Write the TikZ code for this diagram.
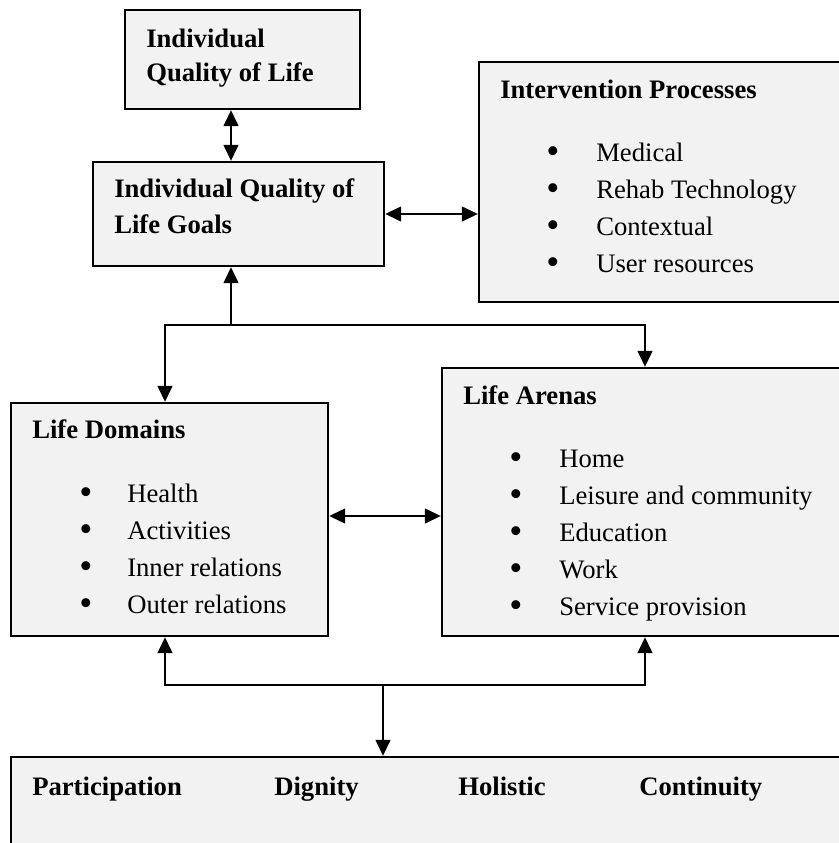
\documentclass[tikz,border=0pt]{standalone}
\usepackage{fontspec}
\setmainfont{Liberation Serif}
\usetikzlibrary{arrows.meta,fit}

\tikzset{
  panel/.style={draw, line width=1.7pt, fill=black!5, inner sep=0pt},
  txt/.style={anchor=base west, inner sep=0pt, font=\fontsize{20pt}{28pt}\selectfont},
  head/.style={txt, font=\fontsize{20pt}{28pt}\selectfont\bfseries},
  dot/.style={anchor=base, inner sep=0pt, font=\fontsize{28pt}{28pt}\selectfont},
  wire/.style={line width=1.7pt, -{Triangle[width=11pt,length=12pt]}},
  twoway/.style={line width=1.7pt, {Triangle[width=11pt,length=12pt]}-{Triangle[width=11pt,length=12pt]}}
}

\begin{document}
\begin{tikzpicture}[x=0.75pt, y=-0.75pt]
  \clip (0,0) rectangle (839,843);

  % boxes
  \node[panel, fit={(125,10) (360,109)}] (qol) {};
  \node[panel, fit={(93,162) (384,266)}] (goals) {};
  \node[panel, fit={(479,62) (860,302)}] (interv) {};
  \node[panel, fit={(11,403) (328,636)}] (domains) {};
  \node[panel, fit={(442,368) (860,636)}] (arenas) {};
  \node[panel, fit={(11,757) (860,900)}] (values) {};

  % titles
  \node[head] (qol-a) at (146,47) {Individual};
  \node[head] (qol-b) at (146,81) {Quality of Life};
  \node[head] (goals-a) at (114,197) {Individual Quality of};
  \node[head] (goals-b) at (114,233) {Life Goals};
  \node[head] (interv-t) at (500,98) {Intervention Processes};
  \node[head] (domains-t) at (32,438) {Life Domains};
  \node[head] (arenas-t) at (463,404) {Life Arenas};

  % bullet lists
  \foreach \lbl [count=\i] in {Medical, Rehab Technology, Contextual, User resources} {
    \node[dot] (interv-b\i) at (553,{163+37*(\i-1)}) {\textbullet};
    \node[txt] (interv-\i) at (596,{161+37*(\i-1)}) {\lbl};
  }
  \foreach \lbl [count=\i] in {Health, Activities, Inner relations, Outer relations} {
    \node[dot] (domains-b\i) at (86,{504+37*(\i-1)}) {\textbullet};
    \node[txt] (domains-\i) at (127,{502+37*(\i-1)}) {\lbl};
  }
  \foreach \lbl [count=\i] in {Home, Leisure and community, Education, Work, Service provision} {
    \node[dot] (arenas-b\i) at (516,{469+37*(\i-1)}) {\textbullet};
    \node[txt] (arenas-\i) at (559,{467+37*(\i-1)}) {\lbl};
  }

  % principles along the bottom
  \node[head] (v1) at (32,795) {Participation};
  \node[head] (v2) at (274,795) {Dignity};
  \node[head] (v3) at (458,795) {Holistic};
  \node[head] (v4) at (639,795) {Continuity};

  % branch points
  \coordinate (split) at (231,325);
  \coordinate (splitL) at (165,325);
  \coordinate (splitR) at (645,325);
  \coordinate (hub) at (383,685);
  \coordinate (hubL) at (165,685);
  \coordinate (hubR) at (645,685);
  \coordinate (mid) at (0,516);

  % connectors
  \draw[twoway] (split |- qol.south) -- (split |- goals.north);
  \draw[twoway] (goals.east) -- (goals.east -| interv.west);
  \draw[wire] (split) -- (split |- goals.south);
  \draw[wire] (split) -- (splitL) -- (splitL |- domains.north);
  \draw[wire] (split) -- (splitR) -- (splitR |- arenas.north);
  \draw[twoway] (mid -| domains.east) -- (mid -| arenas.west);
  \draw[wire] (hub) -- (hub |- values.north);
  \draw[wire] (hub) -- (hubL) -- (hubL |- domains.south);
  \draw[wire] (hub) -- (hubR) -- (hubR |- arenas.south);
\end{tikzpicture}
\end{document}
